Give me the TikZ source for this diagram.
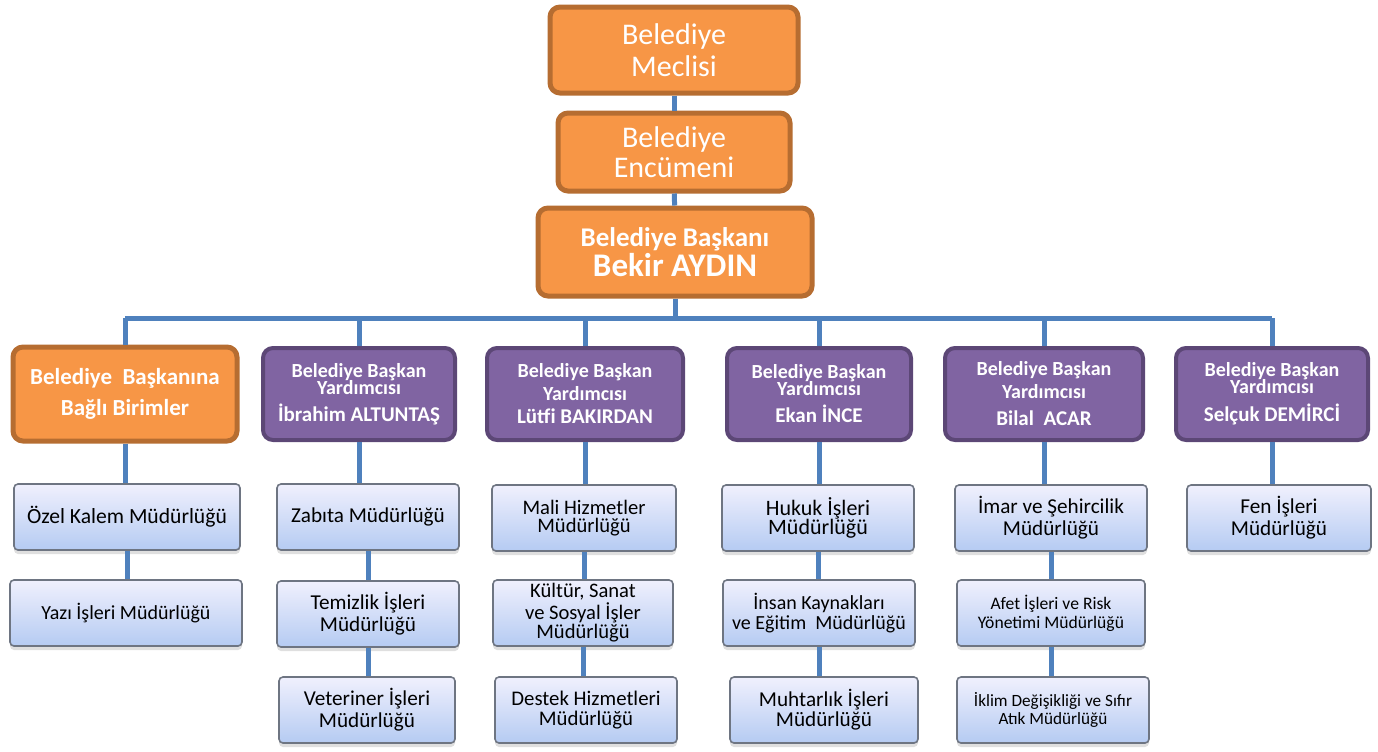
\documentclass[tikz,border=0pt]{standalone}
\usepackage{fontspec}
\setmainfont{Carlito}
\usepackage{xcolor}
\usepackage{tikz}
\usetikzlibrary{shadows}

\definecolor{orgfill}{HTML}{F79646}
\definecolor{orgline}{HTML}{B66D31}
\definecolor{vicefill}{HTML}{8064A2}
\definecolor{viceline}{HTML}{5C4776}
\definecolor{linkblue}{HTML}{4F81BD}
\definecolor{unittop}{HTML}{F0F0FD}
\definecolor{unitbot}{HTML}{B5CBF2}
\definecolor{unitline}{HTML}{6E7582}

\begin{document}
\begin{tikzpicture}[x=0.5pt,y=-0.5pt,
  orangebox/.style={draw=orgline,fill=orgfill,line width=2.5pt,rounded corners=5pt,text=white,align=center,inner sep=2pt},
  vicebox/.style={draw=viceline,fill=vicefill,line width=2pt,rounded corners=5pt,text=white,align=center,inner sep=2pt,
    minimum height=46pt,font=\bfseries\fontsize{10}{11.5}\selectfont},
  unitbox/.style={draw=unitline,line width=0.8pt,rounded corners=2pt,top color=unittop,bottom color=unitbot,
    drop shadow={opacity=0.25,shadow xshift=0pt,shadow yshift=-2pt},align=center,inner sep=1pt,
    minimum height=33pt,font=\fontsize{10.6}{11}\selectfont},
  link/.style={draw=linkblue,line width=2.5pt}]
  \useasboundingbox (0,0) rectangle (1378,751);

  % top of the chart
  \node[orangebox,minimum width=124pt,minimum height=43pt,font=\fontsize{15}{16}\selectfont] (meclis) at (674,50) {Belediye\\Meclisi};
  \node[orangebox,minimum width=116pt,minimum height=39pt,font=\fontsize{15}{15}\selectfont] (encumen) at (674,152) {Belediye\\Encümeni};
  \node[orangebox,minimum width=137pt,minimum height=44pt,font=\bfseries] (baskan) at (675,252)
    {\fontsize{13.5}{14}\selectfont Belediye Başkanı\\[0pt]\fontsize{16.5}{16}\selectfont Bekir AYDIN};

  % second row
  \node[orangebox,minimum width=112pt,minimum height=47pt,font=\bfseries\fontsize{11.5}{15.5}\selectfont] (bagli) at (125,394) {Belediye\ \ Başkanına\\Bağlı Birimler};
  \node[vicebox,minimum width=96pt] (yrd1) at (359,394) {Belediye Başkan\\[-3pt]Yardımcısı\\[2pt]\fontsize{10.5}{11.5}\selectfont İbrahim ALTUNTAŞ};
  \node[vicebox,minimum width=98pt] (yrd2) at (585,394) {Belediye Başkan\\Yardımcısı\\\fontsize{10.5}{11.5}\selectfont Lütfi BAKIRDAN};
  \node[vicebox,minimum width=92pt] (yrd3) at (819,394) {Belediye Başkan\\[-3pt]Yardımcısı\\[2pt]\fontsize{10.5}{11.5}\selectfont Ekan İNCE};
  \node[vicebox,minimum width=99pt] (yrd4) at (1044,394) {Belediye Başkan\\Yardımcısı\\[2pt]\fontsize{10.5}{11.5}\selectfont Bilal\ \ ACAR};
  \node[vicebox,minimum width=96pt] (yrd5) at (1272,394) {Belediye Başkan\\[-3pt]Yardımcısı\\[2.5pt]\fontsize{10.5}{11.5}\selectfont Selçuk DEMİRCİ};

  % units
  \node[unitbox,minimum width=113pt,font=\fontsize{10.8}{12}\selectfont] (ozel) at (127,517) {Özel Kalem Müdürlüğü};
  \node[unitbox,minimum width=116pt,font=\fontsize{10}{11}\selectfont] (yazi) at (126,613) {Yazı İşleri Müdürlüğü};

  \node[unitbox,minimum width=91pt] (zabita) at (368,517) {Zabıta Müdürlüğü};
  \node[unitbox,minimum width=91pt] (temizlik) at (368,614) {Temizlik İşleri\\Müdürlüğü};
  \node[unitbox,minimum width=88pt] (veteriner) at (367,710) {Veteriner İşleri\\Müdürlüğü};

  \node[unitbox,minimum width=92pt,font=\fontsize{10.3}{9}\selectfont] (mali) at (584,518) {Mali Hizmetler\\Müdürlüğü};
  \node[unitbox,minimum width=90pt,font=\fontsize{10.3}{8.5}\selectfont] (kultur) at (583,613) {Kültür, Sanat\\ve Sosyal İşler\\Müdürlüğü};
  \node[unitbox,minimum width=91pt,font=\fontsize{10.4}{10}\selectfont] (destek) at (586,710) {Destek Hizmetleri\\Müdürlüğü};

  \node[unitbox,minimum width=96pt,font=\fontsize{11}{9.5}\selectfont] (hukuk) at (818,518) {Hukuk İşleri\\Müdürlüğü};
  \node[unitbox,minimum width=96pt,font=\fontsize{10}{10}\selectfont] (insan) at (819,613) {İnsan Kaynakları\\ve Eğitim\ \ Müdürlüğü};
  \node[unitbox,minimum width=94pt,font=\fontsize{10.6}{9}\selectfont] (muhtar) at (824,710) {Muhtarlık İşleri\\Müdürlüğü};

  \node[unitbox,minimum width=96pt] (imar) at (1051,518) {İmar ve Şehircilik\\Müdürlüğü};
  \node[unitbox,minimum width=94pt,font=\fontsize{8.8}{9.5}\selectfont] (afet) at (1051,613) {Afet İşleri ve Risk\\Yönetimi Müdürlüğü};
  \node[unitbox,minimum width=96pt,font=\fontsize{8.6}{9}\selectfont] (iklim) at (1053,710) {İklim Değişikliği ve Sıfır\\Atık Müdürlüğü};

  \node[unitbox,minimum width=92pt] (fen) at (1279,518) {Fen İşleri\\Müdürlüğü};

  % connectors
  \coordinate (bus) at (0,318);
  \draw[link] (meclis) -- (encumen);
  \draw[link] (encumen) -- (baskan);
  \draw[link] (baskan.south) -- (baskan.south |- bus);
  \draw[link] (bagli.north |- bus) -- (yrd5.north |- bus);
  \foreach \n in {bagli,yrd1,yrd2,yrd3,yrd4,yrd5}
    \draw[link] (\n.north) -- (\n.north |- bus);

  \draw[link] (bagli.south) -- (bagli.south |- ozel.north);
  \draw[link] (ozel.south) -- (ozel.south |- yazi.north);
  \draw[link] (yrd1.south) -- (yrd1.south |- zabita.north);
  \draw[link] (zabita.south) -- (zabita.south |- temizlik.north);
  \draw[link] (temizlik.south) -- (temizlik.south |- veteriner.north);
  \draw[link] (yrd2.south) -- (yrd2.south |- mali.north);
  \draw[link] (mali.south) -- (mali.south |- kultur.north);
  \draw[link] (kultur.south) -- (kultur.south |- destek.north);
  \draw[link] (yrd3.south) -- (yrd3.south |- hukuk.north);
  \draw[link] (hukuk.south) -- (hukuk.south |- insan.north);
  \draw[link] (insan.south) -- (insan.south |- muhtar.north);
  \draw[link] (yrd4.south) -- (yrd4.south |- imar.north);
  \draw[link] (imar.south) -- (imar.south |- afet.north);
  \draw[link] (afet.south) -- (afet.south |- iklim.north);
  \draw[link] (yrd5.south) -- (yrd5.south |- fen.north);
\end{tikzpicture}
\end{document}
